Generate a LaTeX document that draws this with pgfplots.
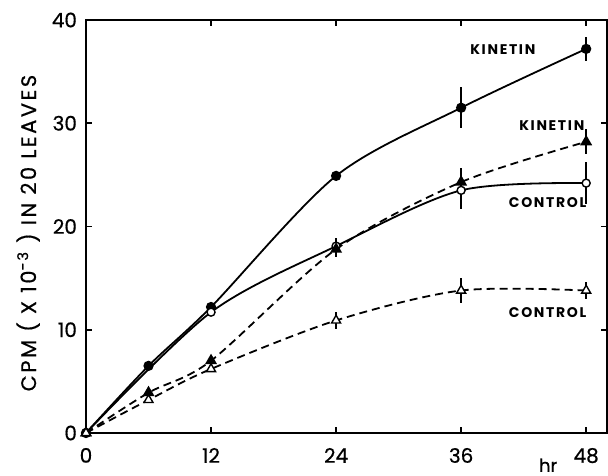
\documentclass[border=0pt]{standalone}
\usepackage{pgfplots}
\pgfplotsset{compat=1.18}
\usepackage{fontspec}
\setmainfont{Poppins}
\newfontfamily\tickfont[FakeBold=0.6]{Poppins}
\newfontfamily\spaced[LetterSpace=12, FakeBold=0.6]{Poppins}
\newfontfamily\note[LetterSpace=12]{Poppins}

\begin{document}
\begin{tikzpicture}
\begin{axis}[
    scale only axis,
    width=260.5pt, height=206.5pt,
    xmin=0, xmax=50,
    ymin=0, ymax=40,
    xtick={0,12,24,36,48},
    ytick={0,10,20,30,40},
    tick align=inside,
    major tick length=3pt,
    axis line style={line width=1pt},
    tick style={line width=0.8pt, black},
    every tick label/.append style={font=\tickfont\fontsize{10}{10}\selectfont},
    /pgf/number format/assume math mode=true,
    xticklabel style={yshift=-4pt},
    yticklabel style={xshift=-1pt},
    clip=false,
]

% kinetin, filled circles
\addplot[black, line width=0.9pt, smooth, mark=*, mark size=2.1pt,
    error bars/.cd, y dir=both, y explicit, error mark=none,
    error bar style={solid, line width=0.8pt}]
coordinates {
    (0,0) +- (0,0)
    (6,6.5) +- (0,0)
    (12,12.2) +- (0,0)
    (24,24.9) +- (0,0)
    (36,31.5) +- (0,2.0)
    (48,37.2) +- (0,1.2)
};

% control, open circles
\addplot[black, line width=0.9pt, smooth, mark=*, mark size=2.0pt,
    mark options={fill=white, line width=0.7pt},
    error bars/.cd, y dir=both, y explicit, error mark=none,
    error bar style={solid, line width=0.8pt}]
coordinates {
    (0,0) +- (0,0)
    (12,11.7) +- (0,0)
    (24,18.1) +- (0,0.8)
    (36,23.5) +- (0,1.8)
    (48,24.2) +- (0,2.0)
};

% kinetin, filled triangles
\addplot[black, line width=0.9pt, smooth, dash pattern=on 4pt off 2.5pt,
    mark=triangle*, mark size=2.6pt, mark options={solid},
    error bars/.cd, y dir=both, y explicit, error mark=none,
    error bar style={solid, line width=0.8pt}]
coordinates {
    (0,0) +- (0,0)
    (6,3.9) +- (0,0)
    (12,7.0) +- (0,0)
    (24,17.8) +- (0,0.8)
    (36,24.3) +- (0,1.4)
    (48,28.2) +- (0,1.2)
};

% control, open triangles
\addplot[black, line width=0.9pt, smooth, dash pattern=on 4pt off 2.5pt,
    mark=triangle*, mark size=2.6pt, mark options={solid, fill=white, line width=0.7pt},
    error bars/.cd, y dir=both, y explicit, error mark=none,
    error bar style={solid, line width=0.8pt}]
coordinates {
    (0,0) +- (0,0)
    (6,3.2) +- (0,0)
    (12,6.2) +- (0,0)
    (24,10.9) +- (0,0.8)
    (36,13.8) +- (0,1.2)
    (48,13.8) +- (0,0.8)
};

\node[font=\note\bfseries\fontsize{7}{7}\selectfont] at (axis cs:40.0,37.1) {KINETIN};
\node[font=\note\bfseries\fontsize{7}{7}\selectfont] at (axis cs:44.7,29.8) {KINETIN};
\node[font=\note\bfseries\fontsize{7}{7}\selectfont] at (axis cs:44.3,22.3) {CONTROL};
\node[font=\note\bfseries\fontsize{7}{7}\selectfont] at (axis cs:44.3,11.7) {CONTROL};

\node[rotate=90, font=\spaced\fontsize{10.5}{10.5}\selectfont] at (rel axis cs:-0.111,0.484)
    {CPM ( X 10\textsuperscript{-3} ) IN 20 LEAVES};
\node[font=\tickfont\fontsize{9}{9}\selectfont] at (rel axis cs:0.887,-0.078) {hr};

\coordinate (sw) at (rel axis cs:0,0);
\coordinate (ne) at (rel axis cs:1,1);
\end{axis}
\pgfresetboundingbox
\path ([xshift=-43pt, yshift=-21.5pt]sw) rectangle ([xshift=0.5pt, yshift=10pt]ne);
\end{tikzpicture}
\end{document}
